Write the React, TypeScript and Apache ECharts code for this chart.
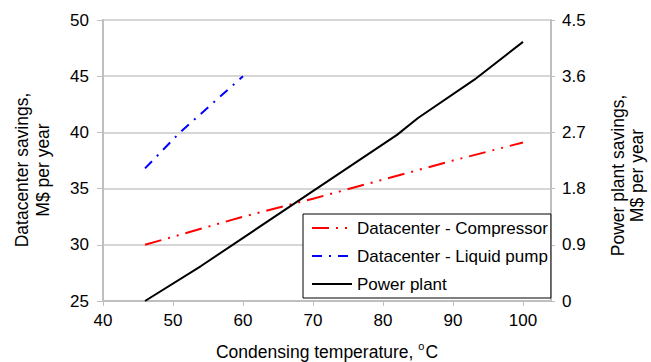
import React, { useEffect, useRef } from "react";
import * as echarts from "echarts";

const compressorX = [46, 60, 70, 80, 90, 100];
const compressorY = [30.0, 32.5, 34.1, 35.8, 37.5, 39.1];
const pumpX = [46, 51, 60];
const pumpY = [36.8, 40.0, 45.0];
const plantX = [46, 54, 64, 82, 85, 93, 100];
const plantY = [0, 0.56, 1.31, 2.66, 2.93, 3.54, 4.15];
const leftTicks = { min: 25, max: 50, interval: 5 };
const rightTicks = { min: 0, max: 4.5, interval: 0.9 };
const xTicks = { min: 40, max: 104, interval: 10 };
const seriesNames = ["Datacenter - Compressor", "Datacenter - Liquid pump", "Power plant"];

const FONT = "Liberation Sans, Arial, sans-serif";
const AXIS_GRAY = "#bfbfbf";

export default function App() {
  const ref = useRef<HTMLDivElement>(null);
  useEffect(() => {
    if (!ref.current) return;
    const chart = echarts.init(ref.current, undefined, { renderer: "svg" });
    const pair = (xs: number[], ys: number[]) => xs.map((x, i) => [x, ys[i]]);
    chart.setOption({
      animation: false,
      backgroundColor: "#fff",
      textStyle: { fontFamily: FONT },
      grid: { left: 103, top: 20, right: 100, bottom: 61, outerBoundsMode: "none", containLabel: false },
      legend: {
        left: 303,
        top: 214,
        orient: "vertical",
        backgroundColor: "#fff",
        borderColor: "#000",
        borderWidth: 1,
        borderRadius: 0,
        padding: [4, 3, 4, 8],
        itemWidth: 40,
        itemHeight: 14,
        itemGap: 8,
        itemTextGap: 5,
        itemStyle: { opacity: 0 },
        textStyle: { fontSize: 17, color: "#000", fontFamily: FONT, lineHeight: 20 },
        data: seriesNames,
      },
      graphic: [
        {
          type: "text",
          x: 32,
          y: 170,
          rotation: Math.PI / 2,
          style: {
            text: "Datacenter savings,\nM$ per year",
            fill: "#000",
            font: `17.5px ${FONT}`,
            fontSize: 17.5,
            fontFamily: FONT,
            align: "center",
            verticalAlign: "middle",
            textAlign: "center",
            textVerticalAlign: "middle",
            lineHeight: 21,
          },
        },
        {
          type: "text",
          x: 627,
          y: 175.5,
          rotation: Math.PI / 2,
          style: {
            text: "Power plant savings,\nM$ per year",
            fill: "#000",
            font: `17.5px ${FONT}`,
            fontSize: 17.5,
            fontFamily: FONT,
            align: "center",
            verticalAlign: "middle",
            textAlign: "center",
            textVerticalAlign: "middle",
            lineHeight: 19,
          },
        },
      ],
      xAxis: {
        type: "value",
        min: xTicks.min,
        max: xTicks.max,
        interval: xTicks.interval,
        name: "{t|Condensing temperature, }{sup|o}{t|C}",
        nameLocation: "middle",
        nameGap: 40,
        nameTextStyle: {
          fontSize: 17.5,
          color: "#000",
          fontFamily: FONT,
          rich: {
            t: { fontSize: 17.5, color: "#000", fontFamily: FONT, lineHeight: 20, verticalAlign: "bottom" },
            sup: {
              fontSize: 11,
              color: "#000",
              fontFamily: FONT,
              lineHeight: 11,
              verticalAlign: "bottom",
              padding: [0, 1, 10, 0],
            },
          },
        },
        axisLine: { show: true, lineStyle: { color: AXIS_GRAY, width: 2 } },
        axisTick: { show: true, length: 5, lineStyle: { color: AXIS_GRAY, width: 1 } },
        axisLabel: { fontSize: 17, color: "#000", margin: 11, showMaxLabel: false, fontFamily: FONT },
        splitLine: { show: false },
      },
      yAxis: [
        {
          type: "value",
          position: "left",
          min: leftTicks.min,
          max: leftTicks.max,
          interval: leftTicks.interval,
          axisLine: { show: true, lineStyle: { color: AXIS_GRAY, width: 2 } },
          axisTick: { show: true, length: 6, lineStyle: { color: AXIS_GRAY, width: 1 } },
          axisLabel: { fontSize: 17, color: "#000", margin: 14, fontFamily: FONT },
          splitLine: { show: true, lineStyle: { color: "#c8c8c8", width: 1.5 } },
        },
        {
          type: "value",
          position: "right",
          min: rightTicks.min,
          max: rightTicks.max,
          interval: rightTicks.interval,
          axisLine: { show: true, lineStyle: { color: AXIS_GRAY, width: 2 } },
          axisTick: { show: true, length: 4, lineStyle: { color: AXIS_GRAY, width: 1 } },
          axisLabel: {
            fontSize: 17,
            color: "#000",
            margin: 11,
            fontFamily: FONT,
            formatter: (v: number) => String(Math.round(v * 10) / 10),
          },
          splitLine: { show: false },
        },
      ],
      series: [
        {
          name: seriesNames[0],
          type: "line",
          yAxisIndex: 0,
          data: pair(compressorX, compressorY),
          showSymbol: false,
          symbol: "none",
          lineStyle: { color: "#ff0000", width: 2, type: [17, 7, 2, 7, 2, 7] },
          itemStyle: { color: "#ff0000" },
        },
        {
          name: seriesNames[1],
          type: "line",
          yAxisIndex: 0,
          data: pair(pumpX, pumpY),
          showSymbol: false,
          symbol: "none",
          lineStyle: { color: "#0000ff", width: 2, type: [10, 7, 2, 7] },
          itemStyle: { color: "#0000ff" },
        },
        {
          name: seriesNames[2],
          type: "line",
          yAxisIndex: 1,
          data: pair(plantX, plantY),
          showSymbol: false,
          symbol: "none",
          lineStyle: { color: "#000000", width: 2 },
          itemStyle: { color: "#000000" },
        },
      ],
    });
    return () => chart.dispose();
  }, []);
  return <div ref={ref} style={{ width: 651, height: 362, position: "absolute", left: 0, top: 0 }} />;
}
